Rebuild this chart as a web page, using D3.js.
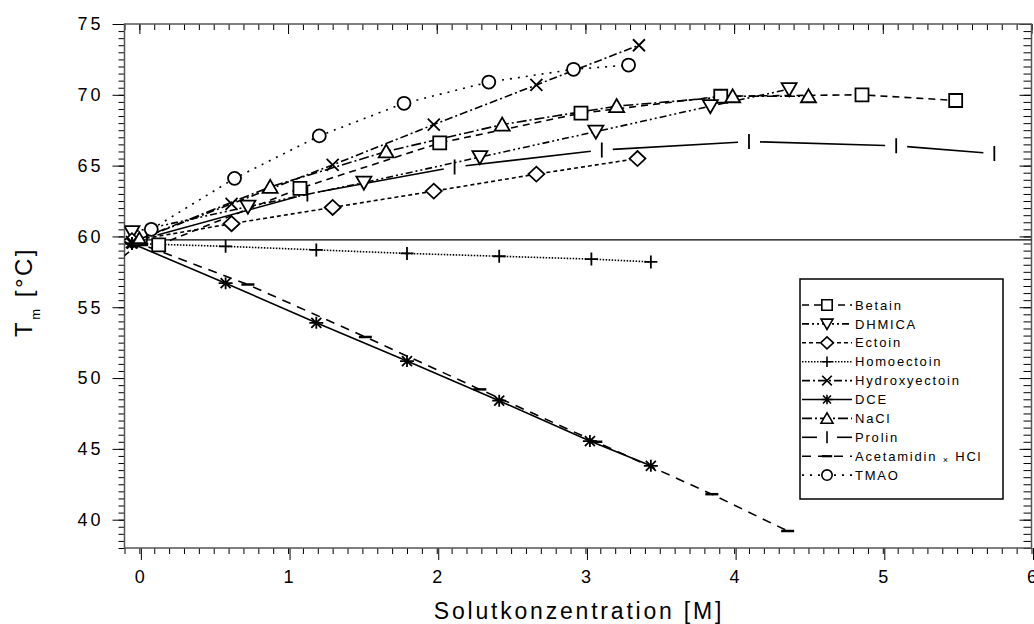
<!doctype html>
<meta charset="utf-8">
<script src="https://d3js.org/d3.v7.min.js"></script>
<style>
  body { margin:0; background:#fff; }
  text { font-family: "Liberation Sans", Arial, sans-serif; fill:#000; }
</style>
<body>
</body>
<script>
//*****************
// data (x = solute concentration [M], y = Tm [°C])
var betainX        = [0.13, 1.08, 2.02, 2.97, 3.91, 4.86, 5.49];
var betainY        = [59.4, 63.4, 66.6, 68.7, 69.9, 70.0, 69.6];
var dhmicaX        = [-0.05, 0.73, 1.51, 2.29, 3.07, 3.84, 4.37];
var dhmicaY        = [60.3, 62.1, 63.8, 65.6, 67.4, 69.2, 70.4];
var ectoinX        = [-0.05, 0.62, 1.30, 1.98, 2.67, 3.35];
var ectoinY        = [59.7, 60.9, 62.05, 63.2, 64.4, 65.5];
var homoectoinX    = [-0.05, 0.58, 1.19, 1.80, 2.42, 3.04, 3.44];
var homoectoinY    = [59.5, 59.3, 59.05, 58.8, 58.6, 58.4, 58.2];
var hydroxyX       = [-0.05, 0.62, 1.30, 1.98, 2.67, 3.36];
var hydroxyY       = [59.6, 62.3, 65.05, 67.9, 70.7, 73.5];
var dceX           = [-0.05, 0.58, 1.19, 1.80, 2.42, 3.03, 3.44];
var dceY           = [59.5, 56.7, 53.9, 51.2, 48.4, 45.55, 43.8];
var naclX          = [0.0, 0.88, 1.66, 2.44, 3.21, 3.99, 4.50];
var naclY          = [59.8, 63.5, 66.0, 67.9, 69.2, 69.9, 69.9];
var prolinX        = [0.05, 1.13, 2.12, 3.11, 4.10, 5.09, 5.75];
var prolinY        = [59.9, 63.0, 64.9, 66.1, 66.7, 66.4, 65.85];
var acetamidinX    = [-0.2, 0.0, 0.73, 1.52, 2.29, 3.07, 3.85, 4.36];
var acetamidinY    = [57.8, 59.5, 56.6, 52.9, 49.2, 45.5, 41.8, 39.2];
var tmaoX          = [0.08, 0.64, 1.21, 1.78, 2.35, 2.92, 3.29];
var tmaoY          = [60.5, 64.1, 67.1, 69.4, 70.9, 71.8, 72.1];
var referenceTm    = 59.75;

var seriesNames = ["Betain","DHMICA","Ectoin","Homoectoin","Hydroxyectoin","DCE","NaCl","Prolin","Acetamidin","TMAO"];
var xTickLabels = [0,1,2,3,4,5,6];
var yTickLabels = [40,45,50,55,60,65,70,75];
var xDomain = [-0.1, 6];
var yDomain = [38, 75];
//**********************

var series = [
  {name:"Betain",        xs:betainX,     ys:betainY,     mark:"square",  dash:"7,5"},
  {name:"DHMICA",        xs:dhmicaX,     ys:dhmicaY,     mark:"tridown", dash:"7,3,2,3,2,3"},
  {name:"Ectoin",        xs:ectoinX,     ys:ectoinY,     mark:"diamond", dash:"4,3"},
  {name:"Homoectoin",    xs:homoectoinX, ys:homoectoinY, mark:"plus",    dash:"1.5,1.5"},
  {name:"Hydroxyectoin", xs:hydroxyX,    ys:hydroxyY,    mark:"cross",   dash:"8,3,2,3"},
  {name:"DCE",           xs:dceX,        ys:dceY,        mark:"star",    dash:null},
  {name:"NaCl",          xs:naclX,       ys:naclY,       mark:"triup",   dash:"10,3,2,3"},
  {name:"Prolin",        xs:prolinX,     ys:prolinY,     mark:"vbar",    dash:null, gap:11},
  {name:"Acetamidin",    xs:acetamidinX, ys:acetamidinY, mark:"hbar",    dash:"9,7"},
  {name:"TMAO",          xs:tmaoX,       ys:tmaoY,       mark:"circle",  dash:"2,6"}
];

var svg = d3.select("body").append("svg").attr("width",1034).attr("height",624);

var x = d3.scaleLinear().domain(xDomain).range([124.5,1031.5]);
var y = d3.scaleLinear().domain(yDomain).range([548,24]);

svg.append("clipPath").attr("id","plotclip")
  .append("rect")
    .attr("x",x(xDomain[0])).attr("y",y(yDomain[1]))
    .attr("width",x(xDomain[1])-x(xDomain[0])).attr("height",y(yDomain[0])-y(yDomain[1]));

//---ticks
var xMinor = d3.range(-1,61).map(function(i){ return i/10; });
var yMinor = d3.range(76,151).map(function(i){ return i/2; });

function styleAxis(g){
  g.select(".domain").remove();
  g.selectAll("line").attr("stroke","#000").attr("stroke-width",1);
  g.selectAll("text").style("font-size","18px").style("letter-spacing","3px");
}

// bottom (outward)
svg.append("g").attr("transform","translate(0,548)")
  .call(d3.axisBottom(x).tickValues(xMinor).tickSize(6).tickFormat("")).call(styleAxis);
svg.append("g").attr("transform","translate(1.5,548)")
  .call(d3.axisBottom(x).tickValues(xTickLabels).tickSize(12).tickPadding(10).tickFormat(d3.format("d")))
  .call(styleAxis);
// top (inward)
svg.append("g").attr("transform","translate(0,24)")
  .call(d3.axisBottom(x).tickValues(xMinor).tickSize(6).tickFormat("")).call(styleAxis);
svg.append("g").attr("transform","translate(0,24)")
  .call(d3.axisBottom(x).tickValues(xTickLabels).tickSize(10).tickFormat("")).call(styleAxis);
// left (outward)
svg.append("g").attr("transform","translate(124.5,0)")
  .call(d3.axisLeft(y).tickValues(yMinor).tickSize(6).tickFormat("")).call(styleAxis);
svg.append("g").attr("transform","translate(124.5,0)")
  .call(d3.axisLeft(y).tickValues(yTickLabels).tickSize(12).tickPadding(9).tickFormat(d3.format("d")))
  .call(styleAxis);
// right (inward)
svg.append("g").attr("transform","translate(1031.5,0)")
  .call(d3.axisLeft(y).tickValues(yMinor).tickSize(8).tickFormat("")).call(styleAxis);
svg.append("g").attr("transform","translate(1031.5,0)")
  .call(d3.axisLeft(y).tickValues(yTickLabels).tickSize(12).tickFormat("")).call(styleAxis);

// frame
svg.append("rect")
  .attr("x",x(xDomain[0])).attr("y",y(yDomain[1]))
  .attr("width",x(xDomain[1])-x(xDomain[0])).attr("height",y(yDomain[0])-y(yDomain[1]))
  .attr("fill","none").attr("stroke","#555").attr("stroke-width",1.5);

// axis titles
svg.append("text")
  .attr("x",579).attr("y",619)
  .attr("text-anchor","middle")
  .style("font-size","23px").style("letter-spacing","2.8px")
  .text("Solutkonzentration [M]");

var yt = svg.append("text")
  .attr("transform","translate(32,292) rotate(-90)")
  .attr("text-anchor","middle")
  .style("font-size","24px").style("letter-spacing","2.5px");
yt.append("tspan").text("T");
yt.append("tspan").attr("dy",8).style("font-size","13px").text("m");
yt.append("tspan").attr("dy",-8).text(" [°C]");

//---markers
function markerPath(type, k){
  k = k || 1;
  var p = d3.path();
  if(type=="square"){ p.rect(-6.5*k,-6.5*k,13*k,13*k); }
  else if(type=="tridown"){ p.moveTo(-7.5*k,-6*k); p.lineTo(7.5*k,-6*k); p.lineTo(0,7*k); p.closePath(); }
  else if(type=="triup"){ p.moveTo(-7.5*k,6*k); p.lineTo(7.5*k,6*k); p.lineTo(0,-7*k); p.closePath(); }
  else if(type=="diamond"){ p.moveTo(-8*k,0); p.lineTo(0,-7.5*k); p.lineTo(8*k,0); p.lineTo(0,7.5*k); p.closePath(); }
  else if(type=="plus"){ p.moveTo(-6.5*k,0); p.lineTo(6.5*k,0); p.moveTo(0,-6.5*k); p.lineTo(0,6.5*k); }
  else if(type=="cross"){ p.moveTo(-6*k,-6*k); p.lineTo(6*k,6*k); p.moveTo(-6*k,6*k); p.lineTo(6*k,-6*k); }
  else if(type=="star"){
    p.moveTo(-5*k,-5*k); p.lineTo(5*k,5*k); p.moveTo(-5*k,5*k); p.lineTo(5*k,-5*k);
    p.moveTo(-7*k,0); p.lineTo(7*k,0); p.moveTo(0,-6*k); p.lineTo(0,6*k);
  }
  else if(type=="vbar"){ p.moveTo(0,-7.5*k); p.lineTo(0,7.5*k); }
  else if(type=="hbar"){ p.moveTo(-6.5*k,0); p.lineTo(6.5*k,0); }
  else if(type=="circle"){ p.arc(0,0,6.5*k,0,2*Math.PI); }
  return p.toString();
}
function filled(type){ return ["square","tridown","triup","diamond","circle"].indexOf(type)>=0; }

var plot = svg.append("g").attr("clip-path","url(#plotclip)");

// reference line
plot.append("line")
  .attr("x1",x(xDomain[0])).attr("x2",x(xDomain[1]))
  .attr("y1",y(referenceTm)).attr("y2",y(referenceTm))
  .attr("stroke","#000").attr("stroke-width",1.2);

var line = d3.line().x(function(d){ return x(d[0]); }).y(function(d){ return y(d[1]); });

series.forEach(function(s){
  var pts = s.xs.map(function(v,i){ return [v, s.ys[i]]; });
  if(s.gap){
    for(var i=0;i<pts.length-1;i++){
      var x0=x(pts[i][0]), y0=y(pts[i][1]), x1=x(pts[i+1][0]), y1=y(pts[i+1][1]);
      var L=Math.hypot(x1-x0,y1-y0), ux=(x1-x0)/L, uy=(y1-y0)/L;
      plot.append("line")
        .attr("x1",x0+ux*s.gap).attr("y1",y0+uy*s.gap)
        .attr("x2",x1-ux*s.gap).attr("y2",y1-uy*s.gap)
        .attr("stroke","#000").attr("stroke-width",1.6);
    }
  } else {
    plot.append("path")
      .attr("d",line(pts))
      .attr("fill","none").attr("stroke","#000").attr("stroke-width",1.6)
      .attr("stroke-dasharray",s.dash);
  }
});

series.forEach(function(s){
  var pts = s.xs.map(function(v,i){ return [v, s.ys[i]]; });
  plot.selectAll(null).data(pts).enter().append("path")
    .attr("transform",function(d){ return "translate("+x(d[0])+","+y(d[1])+")"; })
    .attr("d",markerPath(s.mark))
    .attr("fill",filled(s.mark)?"#fff":"none")
    .attr("stroke","#000")
    .attr("stroke-width",s.mark=="hbar"?2.5:1.8);
});

//---legend
var lg = svg.append("g");
lg.append("rect").attr("x",800).attr("y",279).attr("width",203).attr("height",220)
  .attr("fill","#fff").attr("stroke","#000").attr("stroke-width",1.5);

series.forEach(function(s,i){
  var ry = 305 + i*18.9;
  if(s.gap){
    lg.append("line").attr("x1",802).attr("x2",817).attr("y1",ry).attr("y2",ry)
      .attr("stroke","#000").attr("stroke-width",1.6);
    lg.append("line").attr("x1",837).attr("x2",852).attr("y1",ry).attr("y2",ry)
      .attr("stroke","#000").attr("stroke-width",1.6);
  } else {
    lg.append("line").attr("x1",802).attr("x2",852).attr("y1",ry).attr("y2",ry)
      .attr("stroke","#000").attr("stroke-width",1.6).attr("stroke-dasharray",s.dash);
  }
  lg.append("path")
    .attr("transform","translate(827,"+ry+")")
    .attr("d",markerPath(s.mark,0.8))
    .attr("fill",filled(s.mark)?"#fff":"none")
    .attr("stroke","#000").attr("stroke-width",s.mark=="hbar"?2.2:1.6);
  var t = lg.append("text").attr("x",855).attr("y",ry).attr("dy","0.36em")
    .style("font-size","13px").style("letter-spacing","1.8px");
  if(seriesNames[i]=="Acetamidin"){
    t.append("tspan").text("Acetamidin ");
    t.append("tspan").attr("dy",2).style("font-size","9px").text("×");
    t.append("tspan").attr("dy",-2).text(" HCl");
  } else {
    t.text(seriesNames[i]);
  }
});
</script>
